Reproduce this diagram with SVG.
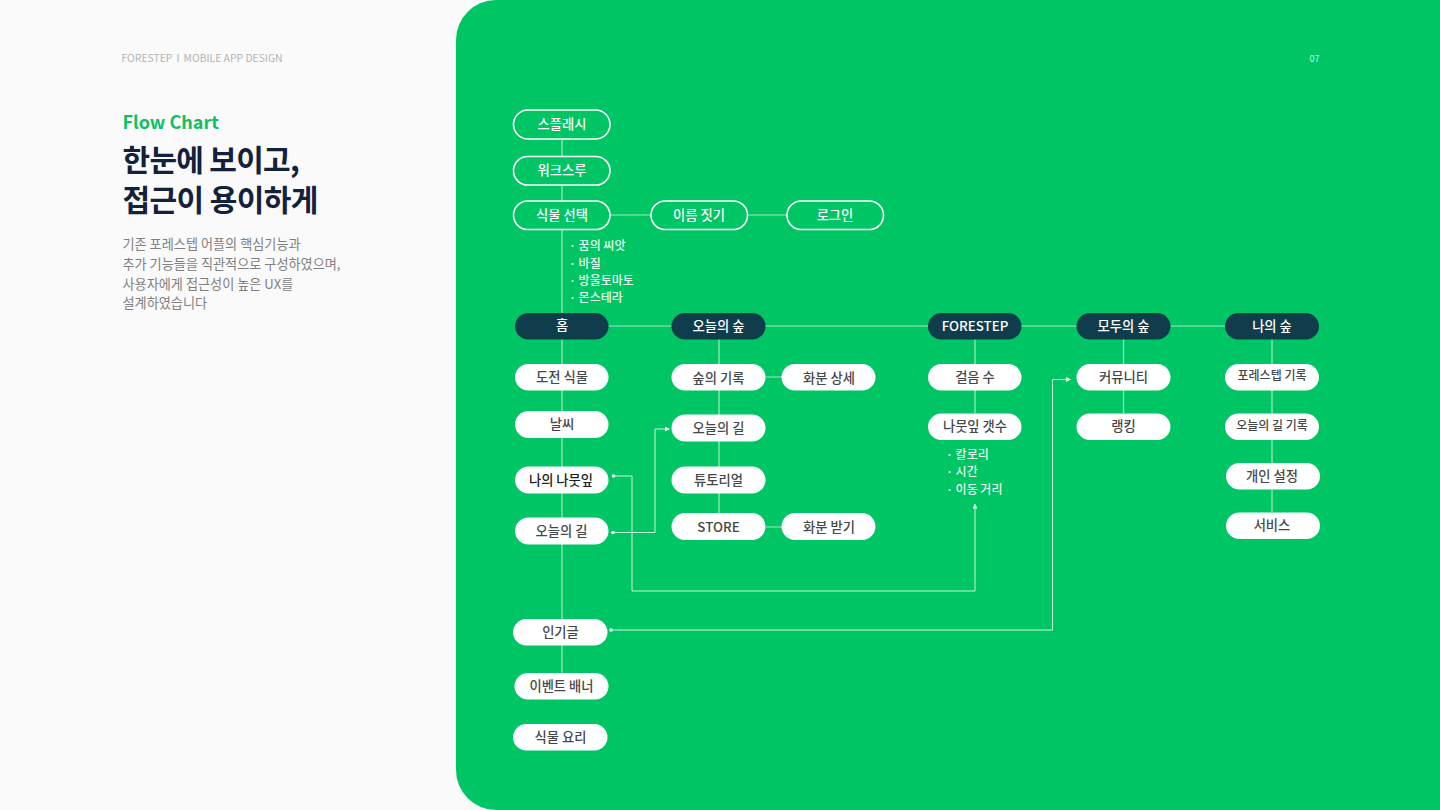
<svg xmlns="http://www.w3.org/2000/svg" width="1440" height="810" viewBox="0 0 1440 810">
<defs>
<style>
text{font-family:"Noto Sans CJK KR","Noto Sans",sans-serif;}
.n text{font-size:13.300px;font-weight:500;text-anchor:middle;dominant-baseline:central;fill:#45484b;}
.w rect{fill:#fff;}
.o rect{fill:#00c564;stroke:#fff;stroke-width:1.6;}
.o text{fill:#fff;}
.d rect{fill:#0f3d4c;}
.d text{fill:#fff;}
.c{fill:none;stroke:#a0ecc0;stroke-width:1.2;}
.a{fill:none;stroke:#c8f5da;stroke-width:1;}
.s{font-size:12px;font-weight:500;fill:#e8fbef;}
.b{font-size:13.150px;fill:#7f7f7f;}
.h{font-size:10.400px;fill:#b4b4b4;}
</style>
<marker id="ah" markerWidth="6" markerHeight="6" refX="4" refY="2.5" orient="auto"><path d="M0 0L5 2.5L0 5Z" fill="#e6fbef"/></marker>
<marker id="dot" markerWidth="5" markerHeight="5" refX="2.5" refY="2.5"><circle cx="2.5" cy="2.5" r="1.8" fill="#fff"/></marker>
</defs>
<rect width="1440" height="810" fill="#fafafa"/>
<path d="M1440 0H496A40 40 0 0 0 456 40V770A40 40 0 0 0 496 810H1440Z" fill="#00c564"/>
<text class="h" x="121.500" y="62">FORESTEP</text>
<text class="h" x="176.500" y="62">I</text>
<text class="h" x="183.500" y="62">MOBILE APP DESIGN</text>
<text x="1309.500" y="62" font-size="9" fill="#c8f5da">07</text>
<text x="122.500" y="129" font-size="18" font-weight="700" fill="#0fc063">Flow Chart</text>
<text x="122.500" y="171" font-size="30" font-weight="700" fill="#14213d" letter-spacing="-0.700">한눈에 보이고,</text>
<text x="122.500" y="211" font-size="30" font-weight="700" fill="#14213d" letter-spacing="-0.600">접근이 용이하게</text>
<text class="b" x="122.500" y="249">기존 포레스텝 어플의 핵심기능과</text>
<text class="b" x="122.500" y="269">추가 기능들을 직관적으로 구성하였으며,</text>
<text class="b" x="122.500" y="288.500">사용자에게 접근성이 높은 UX를</text>
<text class="b" x="122.500" y="308">설계하였습니다</text>
<g id="connectors">
<path class="c" d="M562 139V313M562 339V619M562 645V673M719 339V513M975 339V413M1123.500 339V413M1272 339V512M610 215H651M747 215H787M608 326H1225M766 377H782M766 527H782"/>
<path class="a" marker-start="url(#dot)" marker-end="url(#ah)" d="M613.500 476H632V591H975V504.500"/>
<path class="a" marker-start="url(#dot)" marker-end="url(#ah)" d="M613 532.500H655V429H669"/>
<path class="a" marker-start="url(#dot)" marker-end="url(#ah)" d="M611 630H1052.500V379.500H1070"/>
</g>
<g class="n o" id="n1"><rect x="513.500" y="110" width="96.500" height="29" rx="14.500"/><text x="562" y="123.500">스플래시</text></g>
<g class="n o" id="n2"><rect x="513.500" y="156.500" width="96.500" height="28.500" rx="14.250"/><text x="562" y="169.500">워크스루</text></g>
<g class="n o" id="n3"><rect x="513.500" y="201" width="96.500" height="28.500" rx="14.250"/><text x="562" y="214">식물 선택</text></g>
<g class="n o" id="n4"><rect x="651" y="201" width="96.500" height="28.500" rx="14.250"/><text x="699" y="214">이름 짓기</text></g>
<g class="n o" id="n5"><rect x="787" y="201" width="96.500" height="28.500" rx="14.250"/><text x="835" y="214">로그인</text></g>
<g id="plant-list"><text class="s" x="569" y="250">· 꿈의 씨앗</text><text class="s" x="569" y="267.500">· 바질</text><text class="s" x="569" y="285">· 방울토마토</text><text class="s" x="569" y="302">· 몬스테라</text></g>
<g class="n d" id="n6"><rect x="515" y="313" width="93.500" height="26.500" rx="13.250"/><text x="562" y="324.500">홈</text></g>
<g class="n d" id="n7"><rect x="671.500" y="313" width="94" height="26.500" rx="13.250"/><text x="718.500" y="325.500">오늘의 숲</text></g>
<g class="n d" id="n8"><rect x="928" y="313" width="93.500" height="26.500" rx="13.250"/><text x="975" y="325">FORESTEP</text></g>
<g class="n d" id="n9"><rect x="1076.500" y="313" width="94" height="26.500" rx="13.250"/><text x="1123.500" y="325.500">모두의 숲</text></g>
<g class="n d" id="n10"><rect x="1225" y="313" width="94" height="26.500" rx="13.250"/><text x="1272" y="325.500">나의 숲</text></g>
<g class="n w" id="n11"><rect x="515" y="364" width="93.500" height="26.500" rx="13.250"/><text x="562" y="376">도전 식물</text></g>
<g class="n w" id="n12"><rect x="515" y="411" width="93.500" height="27" rx="13.500"/><text x="562" y="423.500">날씨</text></g>
<g class="n w" id="n13"><rect x="515" y="466.500" width="93.500" height="27" rx="13.500"/><text x="561" y="479" style="fill:#222">나의 나뭇잎</text></g>
<g class="n w" id="n14"><rect x="515" y="517.500" width="93.500" height="27" rx="13.500"/><text x="561.500" y="530">오늘의 길</text></g>
<g class="n w" id="n15"><rect x="671.500" y="364" width="94" height="26.500" rx="13.250"/><text x="718.500" y="377">숲의 기록</text></g>
<g class="n w" id="n16"><rect x="781.500" y="364" width="94" height="26.500" rx="13.250"/><text x="829" y="377">화분 상세</text></g>
<g class="n w" id="n17"><rect x="671.500" y="414.500" width="94" height="27" rx="13.500"/><text x="718.500" y="427.500">오늘의 길</text></g>
<g class="n w" id="n18"><rect x="671.500" y="466.500" width="94" height="27" rx="13.500"/><text x="718.500" y="479">튜토리얼</text></g>
<g class="n w" id="n19"><rect x="671.500" y="513" width="94" height="27" rx="13.500"/><text x="718.500" y="526.500">STORE</text></g>
<g class="n w" id="n20"><rect x="781.500" y="513" width="94" height="27" rx="13.500"/><text x="829" y="526.500">화분 받기</text></g>
<g class="n w" id="n21"><rect x="928" y="364" width="93.500" height="26.500" rx="13.250"/><text x="975" y="376.500">걸음 수</text></g>
<g class="n w" id="n22"><rect x="928" y="413.500" width="93.500" height="26.500" rx="13.250"/><text x="975" y="425.500">나뭇잎 갯수</text></g>
<g id="leaf-list"><text class="s" x="946" y="458.500">· 칼로리</text><text class="s" x="946" y="476">· 시간</text><text class="s" x="946" y="493.500">· 이동 거리</text></g>
<g class="n w" id="n23"><rect x="1076.500" y="364" width="94" height="26.500" rx="13.250"/><text x="1123.500" y="376.500">커뮤니티</text></g>
<g class="n w" id="n24"><rect x="1076.500" y="413.500" width="94" height="26.500" rx="13.250"/><text x="1123.500" y="425.500">랭킹</text></g>
<g class="n w" id="n25"><rect x="1225" y="364" width="94" height="26.500" rx="13.250"/><text x="1272" y="374.500" style="font-size:12px">포레스텝 기록</text></g>
<g class="n w" id="n26"><rect x="1225" y="413.500" width="94" height="26.500" rx="13.250"/><text x="1272" y="424" style="font-size:12px">오늘의 길 기록</text></g>
<g class="n w" id="n27"><rect x="1226" y="463" width="94" height="26.500" rx="13.250"/><text x="1272" y="475.500">개인 설정</text></g>
<g class="n w" id="n28"><rect x="1226" y="512.500" width="94" height="26.500" rx="13.250"/><text x="1272" y="524.500">서비스</text></g>
<g class="n w" id="n29"><rect x="513" y="619" width="94.500" height="26.500" rx="13.250"/><text x="560.500" y="631">인기글</text></g>
<g class="n w" id="n30"><rect x="514.500" y="673" width="94" height="26.500" rx="13.250"/><text x="561.500" y="685">이벤트 배너</text></g>
<g class="n w" id="n31"><rect x="513" y="724" width="94.500" height="26.500" rx="13.250"/><text x="560.500" y="736">식물 요리</text></g>
</svg>
